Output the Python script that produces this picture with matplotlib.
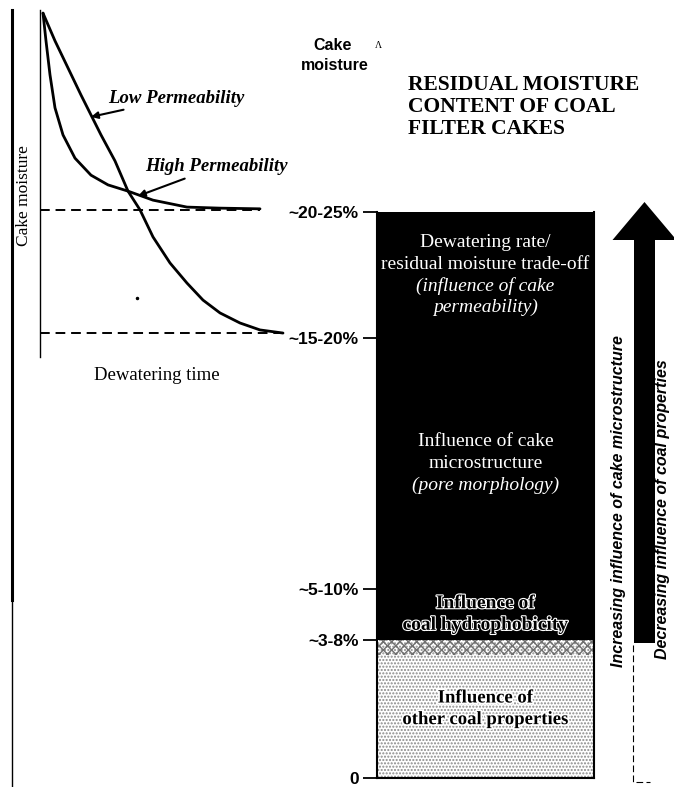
import matplotlib.pyplot as plt
import matplotlib.patheffects as pe
from matplotlib.patches import FancyArrow

plt.rcParams['font.family'] = ['Liberation Serif', 'DejaVu Serif']
plt.rcParams['hatch.linewidth'] = 1.0

# left plot: dewatering curves (arbitrary units, time vs. cake moisture)
low_t = [1.2, 6.0, 11.2, 16.4, 24.4, 30.0, 35.2, 40.0, 45.2, 52.0, 58.8, 65.2, 72.0, 80.0, 88.0, 97.2]
low_m = [99.1, 91.1, 83.3, 75.5, 64.0, 56.5, 47.8, 42.4, 34.6, 27.1, 21.3, 16.4, 12.7, 9.8, 7.8, 6.9]
high_t = [1.2, 2.4, 4.0, 6.0, 9.2, 14.0, 20.4, 27.2, 35.2, 45.2, 58.8, 72.0, 88.0]
high_m = [99.1, 91.1, 81.3, 71.8, 64.0, 57.3, 52.4, 49.6, 47.8, 45.2, 43.2, 42.9, 42.7]
plateau_high = 42.4
plateau_low = 6.9

# right plot: residual moisture levels (scale ~ midpoint of each range)
level_values = [0, 5.5, 7.5, 17.5, 22.5]
level_labels = ['0', '~3-8%', '~5-10%', '~15-20%', '~20-25%']
zone_lo = level_values[:-1]
zone_hi = level_values[1:]
zone_lines = [
    [('Influence of', 'normal'), ('other coal properties', 'normal')],
    [('Influence of', 'normal'), ('coal hydrophobicity', 'normal')],
    [('Influence of cake', 'normal'), ('microstructure', 'normal'), ('(pore morphology)', 'italic')],
    [('Dewatering rate/', 'normal'), ('residual moisture trade-off', 'normal'),
     ('(influence of cake', 'italic'), ('permeability)', 'italic')],
]

W, H = 674, 787
fig = plt.figure(figsize=(W / 100, H / 100), dpi=100)
sans = ['Liberation Sans', 'DejaVu Sans']


def px_axes(l, t, r, b):
    return fig.add_axes([l / W, 1 - b / H, (r - l) / W, (b - t) / H])


# overlay in pixel coords for frame lines, arrow and loose labels
ax = fig.add_axes([0, 0, 1, 1])
ax.set_xlim(0, W)
ax.set_ylim(H, 0)
ax.axis('off')

ax.plot([12, 12], [10, 600], color='k', lw=2.2)
ax.plot([12, 12], [600, 787], color='k', lw=1.0)

# ---- dewatering curves ----
ax1 = px_axes(40, 10, 290, 357)
ax1.patch.set_visible(False)
ax1.set_xlim(0, 100)
ax1.set_ylim(0, 100)
for s in ['top', 'right', 'bottom']:
    ax1.spines[s].set_visible(False)
ax1.spines['left'].set_linewidth(1.0)
ax1.set_xticks([])
ax1.set_yticks([])

ax1.plot(low_t, low_m, color='k', lw=2.0, solid_capstyle='round', solid_joinstyle='round')
ax1.plot(high_t, high_m, color='k', lw=2.0, solid_capstyle='round', solid_joinstyle='round')
ax1.plot([0, high_t[-1]], [plateau_high, plateau_high], color='k', lw=1.4, ls=(0, (5, 3)))
ax1.plot([0, low_t[-1]], [plateau_low, plateau_low], color='k', lw=1.4, ls=(0, (5, 3)))
ax1.plot([38.8], [17], 'k.', ms=3)

ax1.annotate('Low Permeability', xy=(20.4, 69.2), xytext=(27.2, 74.6),
             ha='left', va='center', fontsize=13.5, fontweight='bold', style='italic',
             arrowprops=dict(arrowstyle='-|>', color='k', lw=1.5, mutation_scale=10,
                             shrinkA=1, shrinkB=0))
ax1.annotate('High Permeability', xy=(39.2, 46.4), xytext=(42, 54.8),
             ha='left', va='center', fontsize=13.5, fontweight='bold', style='italic',
             arrowprops=dict(arrowstyle='-|>', color='k', lw=1.5, mutation_scale=10,
                             shrinkA=1, shrinkB=0))

ax.text(24, 196, 'Cake moisture', rotation=90, ha='center', va='center', fontsize=12.5)
ax.text(157, 376, 'Dewatering time', ha='center', va='center', fontsize=13.5)

# ---- residual moisture column ----
ax.text(333, 45, 'Cake', ha='center', va='center', fontsize=11.5, fontweight='bold', family=sans)
ax.text(378, 45, 'Λ', ha='center', va='center', fontsize=7)
ax.text(335, 66, 'moisture', ha='center', va='center', fontsize=11.5, fontweight='bold', family=sans)
ax.text(408, 107, 'RESIDUAL MOISTURE\nCONTENT OF COAL\nFILTER CAKES', ha='left', va='center',
        fontsize=15.5, fontweight='bold', linespacing=1.15)

ax2 = px_axes(377, 212, 594, 778)
ax2.patch.set_visible(False)
ax2.set_xlim(0, 1)
ax2.set_ylim(0, level_values[-1])

fills = ['white', 'black', 'black', 'black']
for lo, hi, c in zip(zone_lo, zone_hi, fills):
    ax2.bar(0, hi - lo, bottom=lo, width=1, align='edge', color=c, linewidth=0)
# speckled texture of the lowest zone
ax2.bar(0, zone_hi[0] - zone_lo[0], bottom=zone_lo[0], width=1, align='edge',
        color='none', edgecolor='#8a8a8a', hatch='.....', linewidth=0)
ax2.bar(0, 0.6, bottom=zone_hi[0] - 0.6, width=1, align='edge',
        color='none', edgecolor='#707070', hatch='xxxx', linewidth=0)

step = 0.86
for i, lines in enumerate(zone_lines):
    mid = (zone_lo[i] + zone_hi[i]) / 2
    n = len(lines)
    for j, (txt, st) in enumerate(lines):
        y = mid + (n - 1) / 2 * step - j * step
        kw = dict(ha='center', va='center', style=st)
        if i == 0:
            ax2.text(0.5, y, txt, color='k', fontweight='bold', fontsize=13.5,
                     path_effects=[pe.withStroke(linewidth=2.5, foreground='white')], **kw)
        elif i == 1:
            ax2.text(0.5, y, txt, color='k', fontweight='bold', fontsize=14,
                     path_effects=[pe.withStroke(linewidth=1.6, foreground='white')], **kw)
        else:
            ax2.text(0.5, y, txt, color='white', fontsize=14, **kw)

ax2.spines['top'].set_visible(False)
for s in ['left', 'right', 'bottom']:
    ax2.spines[s].set_linewidth(1.5)
ax2.set_xticks([])
ax2.set_yticks(level_values)
ax2.set_yticklabels(level_labels, fontweight='bold', fontsize=12.5, family=sans)
ax2.tick_params(axis='y', direction='out', length=10, width=1.3, pad=3)

# big arrow on the right
ax.add_patch(FancyArrow(644.5, 643, 0, -441, width=21, head_width=64, head_length=38,
                        length_includes_head=True, color='k', lw=0))
ax.plot([633, 633, 650], [645, 782, 782], color='k', lw=0.8, ls=(0, (6, 3)))

ax.text(618, 501, 'Increasing influence of cake microstructure', rotation=90,
        ha='center', va='center', fontsize=11.5, fontweight='bold', style='italic', family=sans)
ax.text(663, 509, 'Decreasing influence of coal properties', rotation=90,
        ha='center', va='center', fontsize=11.5, fontweight='bold', style='italic', family=sans)

fig.savefig('out.png', dpi=100)
